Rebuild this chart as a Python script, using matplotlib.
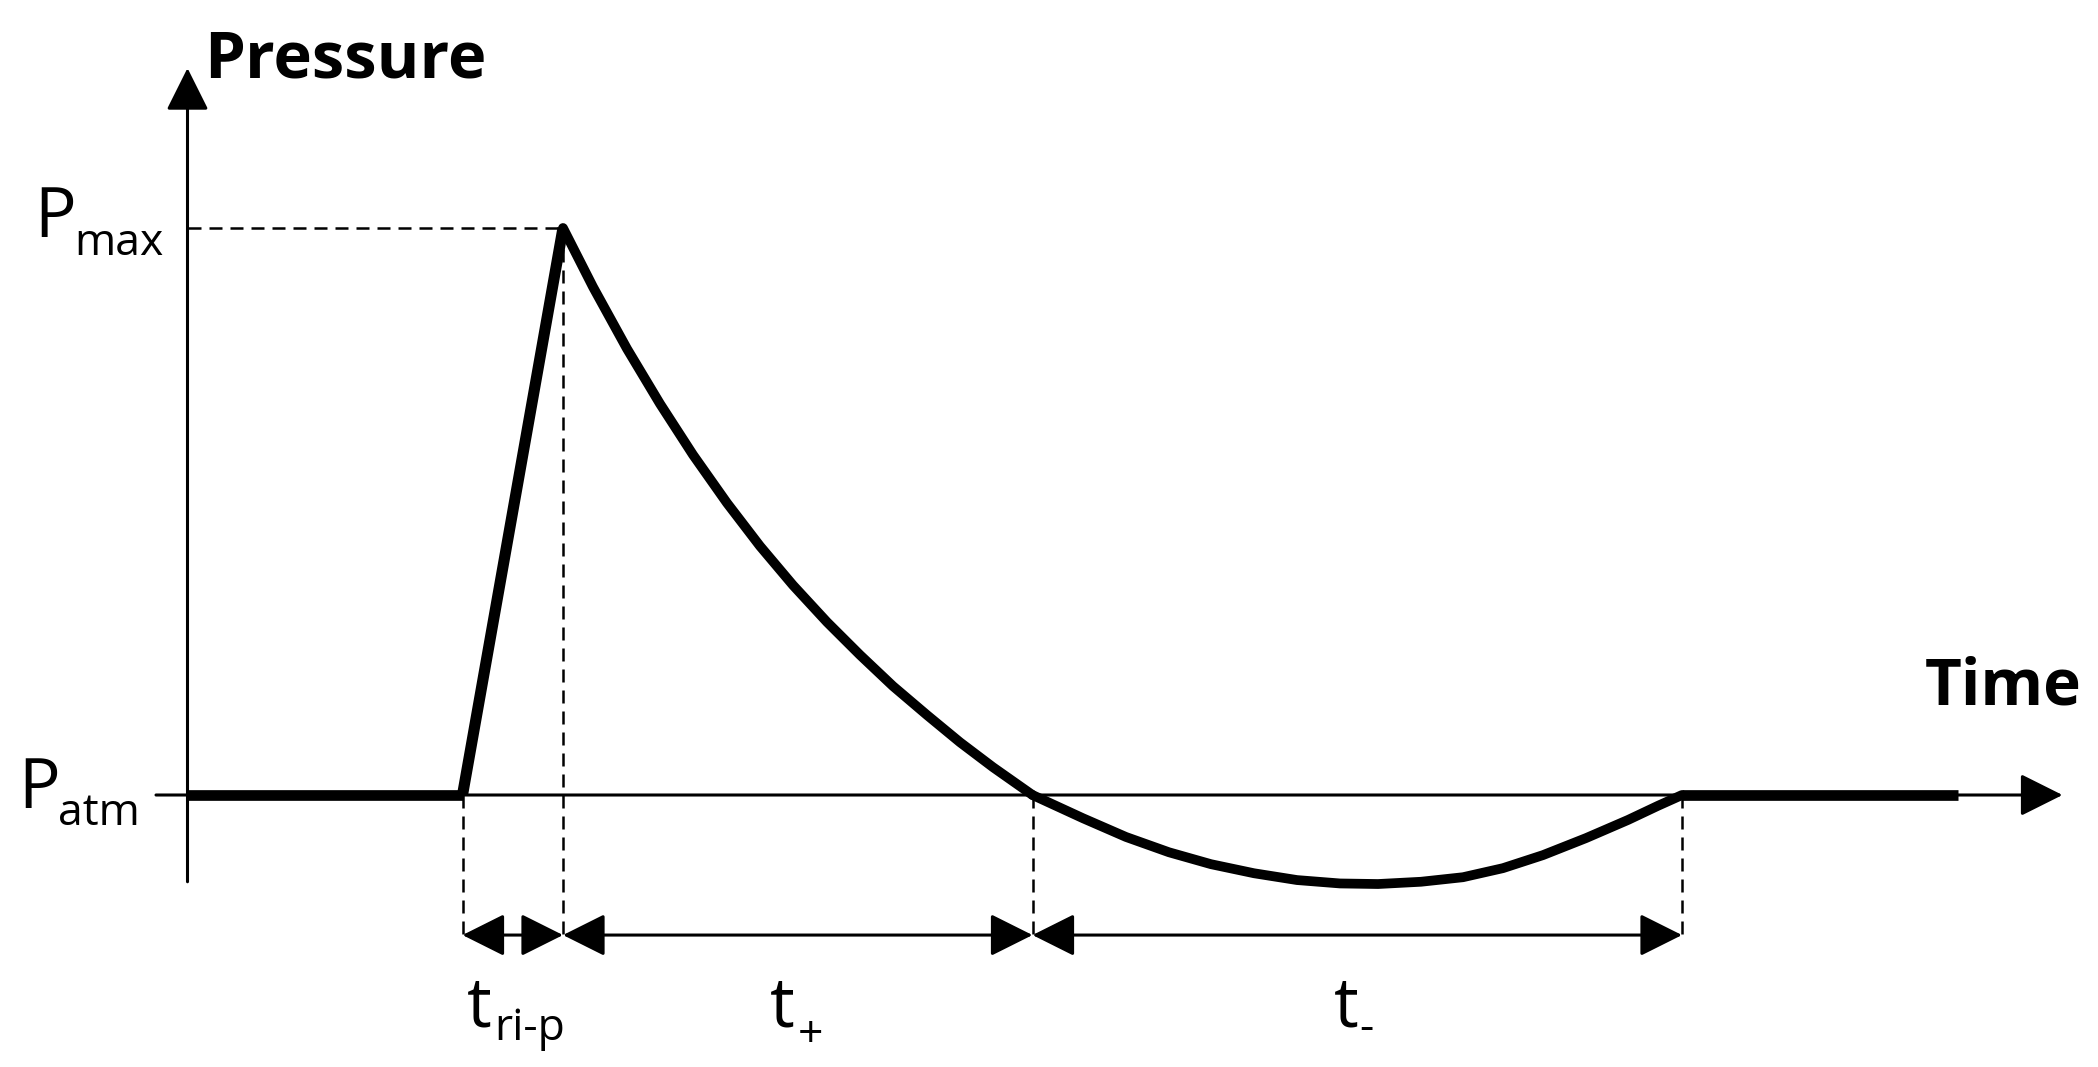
import matplotlib
matplotlib.use("Agg")
import matplotlib.pyplot as plt

# ---- data (time in arbitrary units, pressure relative to P_atm, P_max = 1) ----
t_arrival = 2.75
t_peak = 3.755
t_zero = 8.45
t_end = 14.945
t_tail_end = 17.7

rise_t = [t_arrival, t_peak]
rise_p = [0.0, 1.0]

decay_t = [3.755, 4.055, 4.395, 4.725, 5.055, 5.395, 5.725, 6.055, 6.395,
           6.725, 7.055, 7.395, 7.725, 8.055, 8.45]
decay_p = [1.0, 0.896, 0.787, 0.690, 0.600, 0.515, 0.439, 0.370, 0.305,
           0.247, 0.192, 0.141, 0.093, 0.049, 0.0]

neg_t = [8.45, 8.955, 9.385, 9.815, 10.235, 10.665, 11.095, 11.525, 11.905,
         12.335, 12.755, 13.155, 13.555, 13.985, 14.405, 14.705, 14.945]
neg_p = [0.0, -0.041, -0.074, -0.101, -0.122, -0.138, -0.150, -0.156, -0.157,
         -0.153, -0.145, -0.129, -0.106, -0.076, -0.044, -0.019, 0.0]

base_before_t = [0.0, t_arrival]
base_after_t = [t_end, t_tail_end]

interval_marks = [t_arrival, t_peak, t_zero, t_end]
interval_labels = [("t", "ri-p"), ("t", "+"), ("t", "-")]

# ---- figure ----
W, H = 2098, 1067
fig = plt.figure(figsize=(W / 100, H / 100), dpi=100)
ax = fig.add_axes([0, 0, 1, 1])
ax.set_xlim(-1.875, 19.105)
ax.set_ylim(-0.4797, 1.4021)
ax.axis("off")

lab_font = "Open Sans"
K = "black"

# axes with arrows
arrow_kw = dict(arrowstyle="-|>,head_length=0.4,head_width=0.2", lw=2.2, color=K,
                mutation_scale=66, shrinkA=0, shrinkB=0)
ax.annotate("", xy=(0, 1.282), xytext=(0, -0.153), arrowprops=arrow_kw)
ax.annotate("", xy=(18.75, 0), xytext=(-0.315, 0), arrowprops=arrow_kw)

# the waveform
ax.plot(base_before_t, [0, 0], color=K, lw=7.7, solid_capstyle="butt")
ax.plot(base_after_t, [0, 0], color=K, lw=7.7, solid_capstyle="butt")
ax.plot(rise_t, rise_p, color=K, lw=8.0, solid_capstyle="butt")
ax.plot(decay_t, decay_p, color=K, lw=7.0, solid_capstyle="round",
        solid_joinstyle="round")
ax.plot(neg_t, neg_p, color=K, lw=7.0, solid_capstyle="round",
        solid_joinstyle="round")

# dashed guide lines
arrow_row = -0.247
dash = dict(color=K, lw=1.8, dashes=(5.2, 3.2))
ax.plot([0, t_peak], [1.0, 1.0], **dash)
ax.plot([t_arrival, t_arrival], [0, arrow_row], **dash)
ax.plot([t_peak, t_peak], [1.0, arrow_row], **dash)
ax.plot([t_zero, t_zero], [0, arrow_row], **dash)
ax.plot([t_end, t_end], [0, arrow_row], **dash)

# interval double arrows
darrow_kw = dict(arrowstyle="<|-|>,head_length=0.4,head_width=0.2", lw=2.2, color=K,
                 mutation_scale=66, shrinkA=0, shrinkB=0)
for a, b in zip(interval_marks[:-1], interval_marks[1:]):
    ax.annotate("", xy=(b, arrow_row), xytext=(a, arrow_row), arrowprops=darrow_kw)

# axis titles
ax.text(0.17, 1.266, "Pressure", fontsize=47, fontweight="bold", family=lab_font,
        ha="left", va="baseline")
ax.text(17.37, 0.159, "Time", fontsize=46, fontweight="bold", family=lab_font,
        ha="left", va="baseline")

# P labels
ax.text(-1.53, 0.984, "P", fontsize=50, family=lab_font, ha="left", va="baseline")
ax.text(-1.13, 0.953, "max", fontsize=32, family=lab_font, ha="left", va="baseline")
ax.text(-1.69, -0.023, "P", fontsize=50, family=lab_font, ha="left", va="baseline")
ax.text(-1.30, -0.053, "atm", fontsize=32, family=lab_font, ha="left", va="baseline")

# interval labels
lab_x = [2.79, 5.82, 11.46]
sub_x = [3.07, 6.10, 11.72]
sub_y = [-0.432, -0.445, -0.432]
for (m, s), lx, sx, sy in zip(interval_labels, lab_x, sub_x, sub_y):
    ax.text(lx, -0.409, m, fontsize=50, family=lab_font, ha="left", va="baseline")
    ax.text(sx, sy, s, fontsize=32, family=lab_font, ha="left", va="baseline")

fig.savefig("out.png", dpi=100, facecolor="white")
